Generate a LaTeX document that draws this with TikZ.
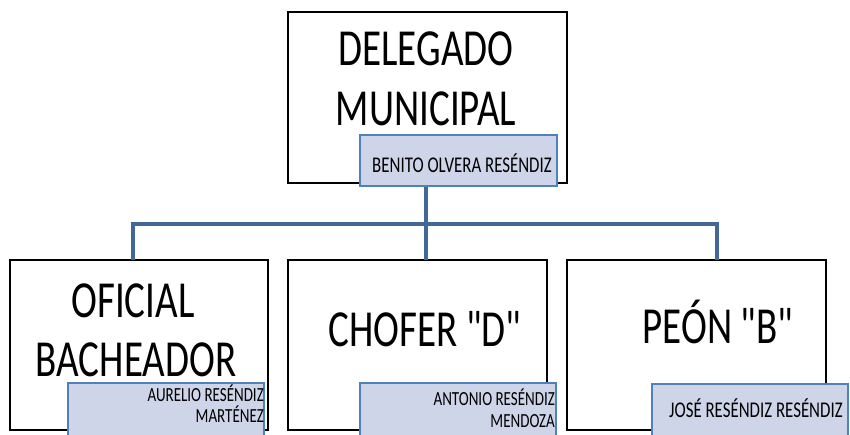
\documentclass[tikz,border=0pt]{standalone}
\usepackage{fontspec}
\newfontfamily\cf[FakeStretch=0.75]{Carlito}
\definecolor{linkblue}{RGB}{66,104,154}
\definecolor{namefill}{RGB}{206,213,232}
\definecolor{nameedge}{RGB}{79,129,189}
\tikzset{
  rolebox/.style={draw=black,line width=1.6pt,fill=white,inner sep=0pt},
  namebox/.style={draw=nameedge,line width=1.8pt,fill=namefill,inner sep=0pt},
  bigtext/.style={inner sep=0pt,font=\cf\fontsize{52}{60}\selectfont},
  toptext/.style={inner sep=0pt,font=\cf\fontsize{22.5}{24}\selectfont},
  smalltext/.style={inner sep=0pt,font=\cf\fontsize{20}{22}\selectfont},
  link/.style={draw=linkblue,line width=3.4pt}
}
\begin{document}
\begin{tikzpicture}[x=1pt,y=-1pt]
\useasboundingbox (0,0) rectangle (850,434);
\clip (0,0) rectangle (850,434);
% boxes
\node[rolebox,minimum width=279pt,minimum height=171pt] (top) at (427.5,97.5) {};
\node[rolebox,minimum width=258pt,minimum height=170pt] (c1) at (139,345) {};
\node[rolebox,minimum width=259pt,minimum height=170pt] (c2) at (417.5,345) {};
\node[rolebox,minimum width=259pt,minimum height=170pt] (c3) at (696.5,345) {};
% connector points
\coordinate (hub) at (426,224);
\coordinate (h1) at (133,224);
\coordinate (h3) at (717,224);
\coordinate (d1) at (133,260);
\coordinate (d2) at (426,260);
\coordinate (d3) at (717,260);
% name boxes
\node[namebox,minimum width=197pt,minimum height=51pt] (n0) at (458.5,160.5) {};
\draw[link] (n0.south -| hub) -- (d2);
\draw[link,line join=miter] (d1) -- (h1) -- (h3) -- (d3);
\node[namebox,minimum width=196pt,minimum height=60pt] (n1) at (166,413) {};
\node[namebox,minimum width=196pt,minimum height=60pt] (n2) at (458,413) {};
\node[namebox,minimum width=196pt,minimum height=60pt] (n3) at (750,414) {};
% titles
\node[bigtext,anchor=base] (t0a) at (426,65) {DELEGADO};
\node[bigtext,anchor=base] (t0b) at (426,125) {MUNICIPAL};
\node[bigtext,anchor=base] (t1a) at (133,317) {OFICIAL};
\node[bigtext,anchor=base] (t1b) at (136,376) {BACHEADOR};
\node[bigtext,anchor=base] (t2) at (425,346) {CHOFER "D"};
\node[bigtext,anchor=base] (t3) at (718,343) {PEÓN "B"};
% names
\node[toptext,anchor=base] (m0) at (462,172) {BENITO OLVERA RESÉNDIZ};
\node[smalltext,anchor=base east] (m1a) at (264,401) {AURELIO RESÉNDIZ};
\node[smalltext,anchor=base east] (m1b) at (264,422) {MARTÉNEZ};
\node[smalltext,anchor=base east] (m2a) at (555,405) {ANTONIO RESÉNDIZ};
\node[smalltext,anchor=base east] (m2b) at (555,427) {MENDOZA};
\node[toptext,anchor=base west] (m3) at (669,417) {JOSÉ RESÉNDIZ RESÉNDIZ};
\end{tikzpicture}
\end{document}
